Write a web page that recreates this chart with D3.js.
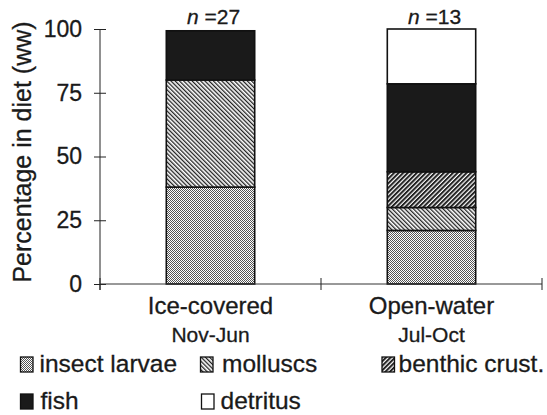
<!DOCTYPE html>
<html>
<head>
<meta charset="utf-8">
<script src="https://cdn.jsdelivr.net/npm/d3@7"></script>
<style>
	body { margin: 0; background: #fff; }
	text { font-family: "Liberation Sans", Arial, sans-serif; fill: #1a1a1a; stroke: #1a1a1a; stroke-width: 0.3px; }
</style>
</head>
<body>
<div id="chart"></div>
<script>
// season categories and sample sizes
var seasons = ["Ice-covered", "Open-water"];
var periods = ["Nov-Jun", "Jul-Oct"];
var sampleN = [27, 13];

// percentage in diet (wet weight) per prey type, one value per season
var insectLarvae = [38, 21];
var molluscs = [42, 9];
var benthicCrust = [0, 14];
var fish = [19.3, 34.5];
var detritus = [0, 21.5];

var preyNames = ["insect larvae", "molluscs", "benthic crust.", "fish", "detritus"];
var yTicks = [0, 25, 50, 75, 100];

var width = 547, height = 415;
var svg = d3.select("#chart").append("svg")
	.attr("width", width)
	.attr("height", height);

// fills for each prey type
var defs = svg.append("defs");
var pInsect = defs.append("pattern").attr("id", "p0")
	.attr("patternUnits", "userSpaceOnUse").attr("width", 2).attr("height", 2);
pInsect.append("rect").attr("width", 2).attr("height", 2).attr("fill", "#fff");
pInsect.append("rect").attr("x", 0).attr("y", 0).attr("width", 1).attr("height", 1).attr("fill", "#555");
pInsect.append("rect").attr("x", 1).attr("y", 1).attr("width", 1).attr("height", 1).attr("fill", "#555");

// molluscs: thin lines running down to the right
var pMoll = defs.append("pattern").attr("id", "p1")
	.attr("patternUnits", "userSpaceOnUse").attr("width", 3).attr("height", 3)
	.attr("patternTransform", "rotate(-45)");
pMoll.append("rect").attr("width", 3).attr("height", 3).attr("fill", "#fff");
pMoll.append("rect").attr("width", 1.3).attr("height", 3).attr("fill", "#222");

// benthic crust.: heavier lines running up to the right
var pBenth = defs.append("pattern").attr("id", "p2")
	.attr("patternUnits", "userSpaceOnUse").attr("width", 3.2).attr("height", 3.2)
	.attr("patternTransform", "rotate(45)");
pBenth.append("rect").attr("width", 3.2).attr("height", 3.2).attr("fill", "#fff");
pBenth.append("rect").attr("width", 2).attr("height", 3.2).attr("fill", "#222");

var fills = ["url(#p0)", "url(#p1)", "url(#p2)", "#1a1a1a", "#fff"];

// scales
var x = d3.scaleBand().domain(seasons).range([100, 542])
	.paddingInner(0.6).paddingOuter(0.3);
var y = d3.scaleLinear().domain([0, 100]).range([284, 29]);

// stacked table built from the arrays
var table = seasons.map(function(s, i){
	return {season: s, p0: insectLarvae[i], p1: molluscs[i], p2: benthicCrust[i], p3: fish[i], p4: detritus[i]};
});
var stack = d3.stack().keys(["p0", "p1", "p2", "p3", "p4"]);
var series = stack(table);

var layers = svg.append("g").selectAll("g")
	.data(series)
	.enter().append("g")
	.attr("fill", function(d, i){ return fills[i]; });

layers.selectAll("rect")
	.data(function(d){ return d.filter(function(e){ return e[1] - e[0] > 0; }); })
	.enter().append("rect")
	.attr("x", function(d){ return x(d.data.season); })
	.attr("y", function(d){ return y(d[1]); })
	.attr("width", x.bandwidth())
	.attr("height", function(d){ return y(d[0]) - y(d[1]); })
	.attr("stroke", "#111")
	.attr("stroke-width", 1.6);

// y axis with ticks crossing the line
var yAxis = svg.append("g")
	.attr("transform", "translate(100,0)")
	.call(d3.axisLeft(y).tickValues(yTicks).tickSize(6).tickPadding(12));
yAxis.select(".domain").remove();
yAxis.append("line").attr("x1", 0).attr("x2", 0)
	.attr("y1", y(100)).attr("y2", y(0) + 6).attr("stroke", "#222");
yAxis.selectAll(".tick line").attr("x1", 6).attr("stroke", "#222");
yAxis.selectAll(".tick text")
	.style("font-family", "'Liberation Sans', Arial, sans-serif")
	.style("font-size", "23px").attr("fill", "#1a1a1a");

// x axis line with boundary ticks
var step = x.step();
var bounds = [100, x(seasons[0]) + x.bandwidth() + step * 0.3, 542];
svg.append("line").attr("x1", 100).attr("x2", 542)
	.attr("y1", y(0)).attr("y2", y(0)).attr("stroke", "#333");
svg.append("g").selectAll("line")
	.data(bounds)
	.enter().append("line")
	.attr("x1", function(d){ return d; }).attr("x2", function(d){ return d; })
	.attr("y1", y(0) - 6).attr("y2", y(0) + 6)
	.attr("stroke", "#222");

// category labels
var cx = function(i){ return x(seasons[i]) + x.bandwidth() / 2; };
svg.append("g").selectAll("text")
	.data(seasons)
	.enter().append("text")
	.attr("x", function(d, i){ return cx(i); })
	.attr("y", 314)
	.attr("text-anchor", "middle")
	.style("font-size", "24px")
	.text(function(d){ return d; });
svg.append("g").selectAll("text")
	.data(periods)
	.enter().append("text")
	.attr("x", function(d, i){ return cx(i); })
	.attr("y", 342)
	.attr("text-anchor", "middle")
	.style("font-size", "21px")
	.text(function(d){ return d; });

// n labels above bars
var nText = svg.append("g").selectAll("text")
	.data(sampleN)
	.enter().append("text")
	.attr("x", function(d, i){ return cx(i) + 3; })
	.attr("y", 24)
	.attr("text-anchor", "middle")
	.style("font-size", "21px");
nText.append("tspan").style("font-style", "italic").text("n");
nText.append("tspan").text(function(d){ return " =" + d; });

// y title
svg.append("text")
	.attr("transform", "translate(31,152) rotate(-90)")
	.attr("text-anchor", "middle")
	.style("font-size", "25px")
	.text("Percentage in diet (ww)");

// legend: swatch x, text x, baseline y
var legendPos = [[20.5, 39.5, 372], [200.5, 222, 372], [382, 398.5, 372], [20.5, 40.5, 409], [201.5, 220.5, 409]];
var legend = svg.append("g").selectAll("g")
	.data(preyNames)
	.enter().append("g");
legend.append("rect")
	.attr("x", function(d, i){ return legendPos[i][0]; })
	.attr("y", function(d, i){ return legendPos[i][2] - 15; })
	.attr("width", 12.5).attr("height", 15)
	.attr("fill", function(d, i){ return fills[i]; })
	.attr("stroke", "#111").attr("stroke-width", 1.3);
legend.append("text")
	.attr("x", function(d, i){ return legendPos[i][1]; })
	.attr("y", function(d, i){ return legendPos[i][2]; })
	.style("font-size", "24.5px")
	.text(function(d){ return d; });
</script>
</body>
</html>
